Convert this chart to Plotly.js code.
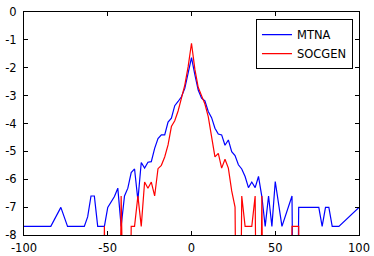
<!DOCTYPE html>
<html>
<head>
<meta charset="utf-8">
<script src="https://cdn.plot.ly/plotly-3.0.1.min.js"></script>
<style>
html,body{margin:0;padding:0;background:#fff;}
#chart{width:374px;height:256px;}
</style>
</head>
<body>
<div id="chart"></div>
<script>
// MTNA (blue) – log10 frequency by return bin
const mtnaX = [-100,-84,-78,-74,-64,-62,-60,-58,-56,-52,-50,-48,-46,-44,-42,-40,-38,-36,-34,-32,-30,-28,-26,-24,-22,-20,-18,-16,-14,-12,-10,-8,-6,-4,-2,0,2,4,6,8,10,12,14,16,18,20,22,24,26,28,30,32,34,36,38,40,42,44,46,48,50,54,60,62,64,76,78,80,82,84,88,100];
const mtnaY = [-7.69,-7.69,-7.01,-7.69,-7.69,-7.35,-6.6,-6.6,-7.69,-7.69,-7.01,-6.8,-6.62,-6.32,-7.69,-6.6,-6.32,-5.76,-5.63,-6.75,-5.4,-5.6,-5.39,-5.37,-4.89,-4.54,-4.41,-4.41,-3.95,-3.81,-3.36,-3.21,-3.04,-2.74,-2.14,-1.64,-2.25,-2.8,-3.09,-3.19,-3.57,-3.79,-4.17,-4.38,-4.41,-4.78,-4.59,-5.01,-5.15,-5.48,-5.63,-5.9,-6.3,-6.1,-6.3,-5.9,-6.62,-7.69,-6.6,-7.69,-6.08,-7.69,-6.6,-20,-7.01,-7.01,-7.69,-7.01,-7.01,-7.69,-7.69,-7.01];

// SOCGEN (red)
const socgenX = [-54,-52,-50,-44,-42,-40,-38,-36,-34,-32,-30,-28,-26,-24,-22,-20,-18,-16,-14,-12,-10,-8,-6,-4,-2,0,2,4,6,8,10,12,14,16,18,20,22,24,26,28,30,32,36,38,40,42,44,58,60,64,66];
const socgenY = [-20,-7.69,-20,-20,-6.6,-20,-20,-7.69,-7.69,-6.6,-7.69,-6.1,-6.32,-6.1,-6.6,-5.62,-5.5,-5.2,-4.77,-4.11,-3.9,-3.55,-3.05,-2.62,-1.96,-1.12,-2.05,-2.7,-3.0,-3.3,-3.75,-4.45,-5.2,-5.07,-5.6,-5.28,-5.6,-6.42,-7.0,-20,-6.6,-7.69,-7.69,-6.6,-20,-6.6,-20,-20,-7.69,-7.69,-20];

const xTickVals = [-100,-50,0,50,100];
const xTickText = ['-100','-50','0','50','100'];
const yTickVals = [0,-1,-2,-3,-4,-5,-6,-7,-8];
const yTickText = ['0','-1','-2','-3','-4','-5','-6','-7','-8'];

const font = {family: 'DejaVu Sans, sans-serif', size: 11.5, color: '#000'};

const traces = [
  {x: mtnaX, y: mtnaY, name: 'MTNA', type: 'scatter', mode: 'lines',
   line: {color: '#0000ff', width: 1.2}},
  {x: socgenX, y: socgenY, name: 'SOCGEN', type: 'scatter', mode: 'lines',
   line: {color: '#ff0000', width: 1.2}}
];

const axisCommon = {
  showgrid: false, zeroline: false, showline: true, linecolor: '#000', linewidth: 1,
  mirror: 'ticks', ticks: 'inside', ticklen: 4, tickwidth: 1, tickcolor: '#000',
  tickfont: font, fixedrange: true
};

const layout = {
  width: 374, height: 256,
  margin: {l: 24, r: 15, t: 12, b: 21, pad: 0},
  paper_bgcolor: '#fff', plot_bgcolor: '#fff',
  font: font,
  showlegend: true,
  legend: {x: 0.982, xanchor: 'right', y: 0.968, yanchor: 'top',
           bordercolor: '#000', borderwidth: 1, bgcolor: '#fff', font: font},
  xaxis: Object.assign({}, axisCommon, {range: [-100, 100], tickmode: 'array', tickvals: xTickVals, ticktext: xTickText, ticklabelstandoff: 2}),
  yaxis: Object.assign({}, axisCommon, {range: [-8, 0], tickmode: 'array', tickvals: yTickVals, ticktext: yTickText, ticklabelstandoff: 4})
};

Plotly.newPlot('chart', traces, layout, {staticPlot: true, displayModeBar: false});
</script>
</body>
</html>
